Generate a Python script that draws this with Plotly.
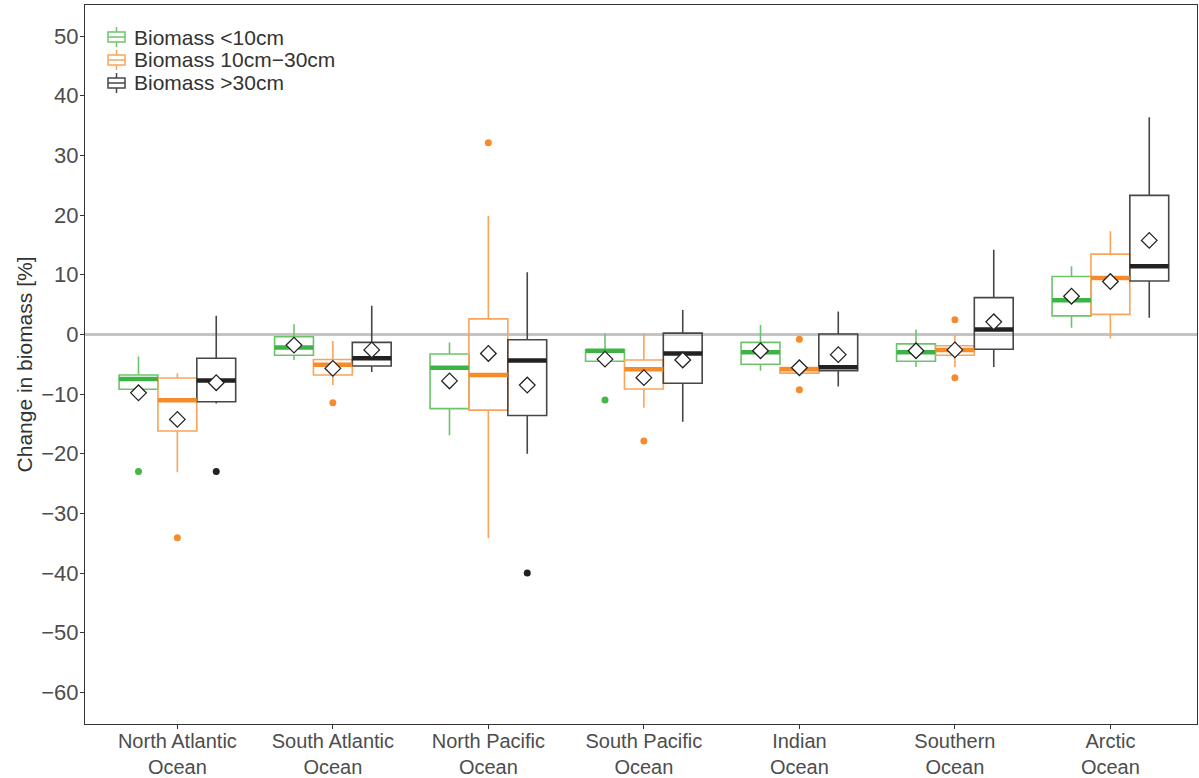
import plotly.graph_objects as go

# ---------------- data ----------------
ocean_labels = ["North Atlantic<br>Ocean", "South Atlantic<br>Ocean", "North Pacific<br>Ocean",
                "South Pacific<br>Ocean", "Indian<br>Ocean", "Southern<br>Ocean", "Arctic<br>Ocean"]
series_names = ["Biomass <10cm", "Biomass 10cm\u221230cm", "Biomass >30cm"]

small_q1 = [-9.2, -3.5, -12.45, -4.5, -5.0, -4.5, 3.1]
small_med = [-7.5, -2.2, -5.6, -2.75, -3.0, -3.0, 5.7]
small_q3 = [-6.8, -0.4, -3.3, -2.6, -1.35, -1.6, 9.7]
small_lo = [-9.6, -4.3, -16.9, -4.6, -6.1, -5.45, 1.1]
small_hi = [-3.7, 1.7, -1.35, 0.15, 1.55, 0.8, 11.4]
small_mean = [-9.8, -1.8, -7.8, -4.15, -2.75, -2.75, 6.4]
small_out = [[-23.0], [], [], [-11.0], [], [], []]

mid_q1 = [-16.2, -6.8, -12.7, -9.15, -6.5, -3.5, 3.35]
mid_med = [-11.05, -5.1, -6.8, -5.85, -5.85, -2.6, 9.45]
mid_q3 = [-7.3, -4.2, 2.6, -4.3, -5.55, -1.9, 13.45]
mid_lo = [-23.1, -8.5, -34.15, -12.3, -6.6, -5.45, -0.7]
mid_hi = [-6.5, -1.1, 19.85, 0.2, -5.45, -0.1, 17.3]
mid_mean = [-14.25, -5.7, -3.2, -7.25, -5.6, -2.6, 8.85]
mid_out = [[-34.1], [-11.45], [32.1], [-17.85], [-0.8, -9.3], [2.45, -7.25], []]

large_q1 = [-11.3, -5.3, -13.6, -8.2, -6.1, -2.5, 8.95]
large_med = [-7.75, -4.0, -4.4, -3.2, -5.5, 0.8, 11.4]
large_q3 = [-4.0, -1.35, -0.9, 0.2, 0.05, 6.15, 23.3]
large_lo = [-11.6, -6.3, -20.0, -14.65, -8.75, -5.45, 2.8]
large_hi = [3.1, 4.8, 10.4, 4.1, 3.85, 14.2, 36.4]
large_mean = [-8.1, -2.6, -8.5, -4.3, -3.4, 2.1, 15.75]
large_out = [[-23.0], [], [-40.0], [], [], [], []]

y_ticks = [-60, -50, -40, -30, -20, -10, 0, 10, 20, 30, 40, 50]

# ---------------- styling ----------------
W, H = 1199, 778
ML, MR, MT, MB = 85, 2, 5, 54
PW, PH = W - ML - MR, H - MT - MB

outline_colors = ["#6cc46a", "#f9a45a", "#474747"]
median_colors = ["#3db346", "#f68b2c", "#222222"]
point_colors = ["#45b649", "#f68b2c", "#222222"]
offsets = [-0.25, 0.0, 0.25]
box_w = 0.25
font_family = "Liberation Sans, Arial, sans-serif"

series = [
    (small_q1, small_med, small_q3, small_lo, small_hi, small_mean, small_out),
    (mid_q1, mid_med, mid_q3, mid_lo, mid_hi, mid_mean, mid_out),
    (large_q1, large_med, large_q3, large_lo, large_hi, large_mean, large_out),
]

fig = go.Figure()
n = len(ocean_labels)

# boxes
for s, (q1, med, q3, lo, hi, mean, out) in enumerate(series):
    xs = [i + offsets[s] for i in range(n)]
    fig.add_trace(go.Box(
        name=series_names[s], x=xs, q1=q1, median=med, q3=q3,
        lowerfence=lo, upperfence=hi, width=box_w, whiskerwidth=0,
        boxpoints=False, fillcolor="rgba(255,255,255,0)",
        line=dict(color=outline_colors[s], width=1.6),
        hoverinfo="skip", showlegend=False,
    ))

# thick medians, outliers
for s, (q1, med, q3, lo, hi, mean, out) in enumerate(series):
    mx, my = [], []
    for i in range(n):
        c = i + offsets[s]
        mx += [c - box_w / 2, c + box_w / 2, None]
        my += [med[i], med[i], None]
    fig.add_trace(go.Scatter(x=mx, y=my, mode="lines",
                             line=dict(color=median_colors[s], width=4.5),
                             showlegend=False, hoverinfo="skip"))
    ox, oy = [], []
    for i in range(n):
        for v in out[i]:
            ox.append(i + offsets[s])
            oy.append(v)
    fig.add_trace(go.Scatter(x=ox, y=oy, mode="markers",
                             marker=dict(color=point_colors[s], size=7),
                             showlegend=False, hoverinfo="skip"))

# means
for s, (q1, med, q3, lo, hi, mean, out) in enumerate(series):
    xs = [i + offsets[s] for i in range(n)]
    fig.add_trace(go.Scatter(x=xs, y=mean, mode="markers",
                             marker=dict(symbol="diamond", size=12, color="white",
                                         line=dict(color="#222222", width=1.3)),
                             showlegend=False, hoverinfo="skip"))

# legend (drawn in the plot's top-left corner)
def px_x(p):
    return (p - ML) / PW


def px_y(p):
    return 1 - (p - MT) / PH


shapes = []
annotations = []
legend_rows = [37, 60, 83]
for s, cy in enumerate(legend_rows):
    c = outline_colors[s]
    shapes.append(dict(type="rect", xref="paper", yref="paper",
                       x0=px_x(108), x1=px_x(125), y0=px_y(cy - 5), y1=px_y(cy + 5),
                       line=dict(color=c, width=1.5), fillcolor="rgba(0,0,0,0)"))
    shapes.append(dict(type="line", xref="paper", yref="paper",
                       x0=px_x(108), x1=px_x(125), y0=px_y(cy), y1=px_y(cy),
                       line=dict(color=c, width=1.5)))
    shapes.append(dict(type="line", xref="paper", yref="paper",
                       x0=px_x(116.5), x1=px_x(116.5), y0=px_y(cy - 10), y1=px_y(cy - 5),
                       line=dict(color=c, width=1.5)))
    shapes.append(dict(type="line", xref="paper", yref="paper",
                       x0=px_x(116.5), x1=px_x(116.5), y0=px_y(cy + 5), y1=px_y(cy + 10),
                       line=dict(color=c, width=1.5)))
    annotations.append(dict(xref="paper", yref="paper", x=px_x(132), y=px_y(cy),
                            xanchor="left", yanchor="middle", showarrow=False,
                            text=series_names[s],
                            font=dict(size=21, color="#333333", family=font_family)))

fig.update_layout(
    width=W, height=H,
    margin=dict(l=ML, r=MR, t=MT, b=MB),
    plot_bgcolor="white", paper_bgcolor="white",
    font=dict(family=font_family, color="#333333"),
    showlegend=False,
    shapes=shapes, annotations=annotations,
)
fig.update_xaxes(
    range=[-0.594, 6.557], tickvals=list(range(n)), ticktext=ocean_labels,
    showgrid=False, zeroline=False, showline=True, mirror=True, automargin=False,
    linecolor="#333333", linewidth=1, ticks="outside", ticklen=4, tickcolor="#333333",
    tickfont=dict(size=20, color="#4d4d4d"), ticklabelstandoff=-5,
)
fig.update_yaxes(
    range=[-65.3, 55.2], tickvals=y_ticks,
    ticktext=[("\u2212" + str(-v)) if v < 0 else str(v) for v in y_ticks],
    showgrid=False, zeroline=True, zerolinecolor="#c4c4c4", zerolinewidth=2.5,
    showline=True, mirror=True, automargin=False,
    linecolor="#333333", linewidth=1,
    ticks="outside", ticklen=4, tickcolor="#333333",
    tickfont=dict(size=22, color="#4d4d4d"), ticklabelstandoff=-3,
    title=dict(text="Change in biomass [%]", font=dict(size=21, color="#333333"), standoff=2),
)

fig.write_html("out.html", config={"displayModeBar": False},
               post_script="document.body.style.margin='0';document.body.style.overflow='hidden';")
